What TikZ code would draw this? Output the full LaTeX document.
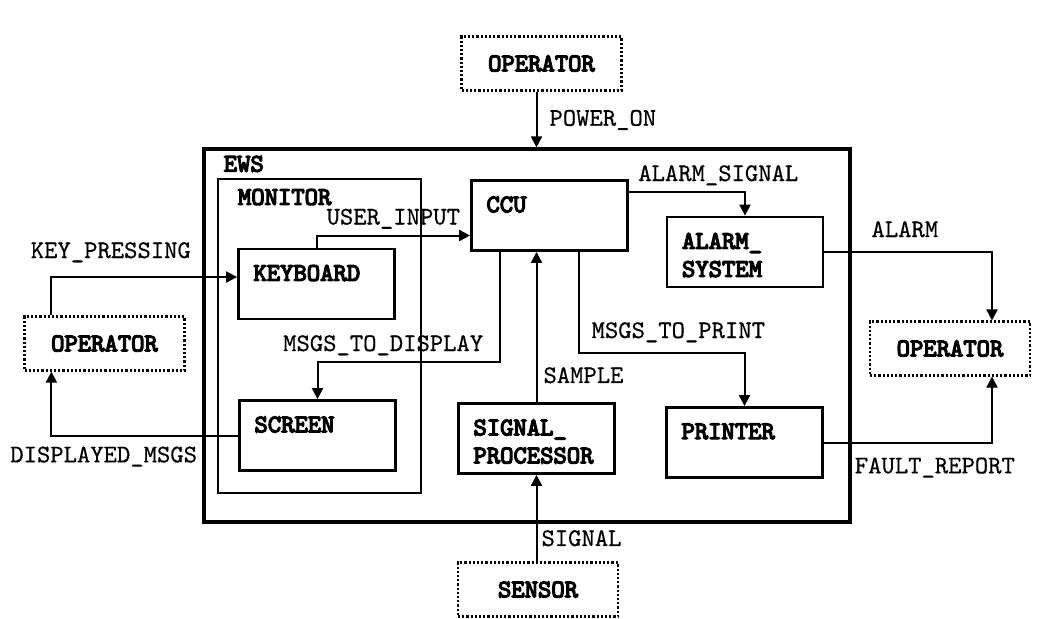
\documentclass[tikz,border=0pt]{standalone}
\usepackage{fontspec}
\setmonofont{lmmono10-regular}[Extension=.otf, BoldFont=lmmono10-regular,
  UprightFeatures={FakeBold=0.5}, BoldFeatures={FakeBold=5}]
\usetikzlibrary{arrows.meta,positioning}

\begin{document}
\begin{tikzpicture}[x=0.5pt, y=-0.5pt,
  font=\ttfamily\fontsize{12.7}{14}\selectfont,
  tag/.style={anchor=north west, inner sep=0pt, xshift=8pt, yshift=-8.5pt, align=left,
    font=\ttfamily\bfseries\fontsize{12.7}{14}\selectfont},
  block/.style={draw, line width=1.4pt, minimum width=78pt, minimum height=35pt,
    inner sep=0pt, label={[tag]north west:#1}},
  ext/.style={draw, densely dotted, line width=1.1pt, minimum width=80pt,
    minimum height=27pt, font=\ttfamily\bfseries\fontsize{12.7}{14}\selectfont},
  flow/.style={line width=1pt, -{Triangle[length=5.5pt,width=5.5pt]}},
  lab/.style={inner sep=0pt, text depth=0pt}]

  \useasboundingbox (0,0) rectangle (1053,618);

  % system and subsystem
  \node[draw, line width=1.6pt, minimum width=323pt, minimum height=186.5pt,
    label={[tag, xshift=2.5pt, yshift=4.5pt]north west:EWS}] (ews) at (527,335.5) {};
  \node[draw, line width=1.4pt, minimum width=101.5pt, minimum height=157pt,
    label={[tag, xshift=2.5pt, yshift=3pt]north west:MONITOR}] (mon) at (319.5,336) {};

  % components
  \node[block=KEYBOARD] (kbd) at (316.5,284) {};
  \node[block=SCREEN] (scr) at (317.5,435.5) {};
  \node[block=CCU] (ccu) at (549.5,215.5) {};
  \node[block={ALARM\_\\SYSTEM}] (alm) at (745,252) {};
  \node[block=PRINTER] (prn) at (744.5,442.5) {};
  \node[block={SIGNAL\_\\PROCESSOR}] (sp) at (536.5,438.5) {};

  % outside world
  \node[ext] (opT) at (541.5,63.5) {OPERATOR};
  \node[ext] (opL) at (104.5,343.5) {OPERATOR};
  \node[ext] (opR) at (950,348.5) {OPERATOR};
  \node[ext] (sen) at (538,589.5) {SENSOR};

  \coordinate (disp) at (500,362);
  \coordinate (prt) at (579,353);

  % data flows
  \draw[flow] (sp |- opT.south) -- node[lab, right=6pt, pos=0.47] (lPow) {POWER\_ON} (sp |- ews.north);
  \draw[flow] (sp.north) -- node[lab, right=3pt, pos=0.18] (lSmp) {SAMPLE} (sp.north |- ccu.south);
  \draw[flow] (sp |- sen.north) -- node[lab, right=2pt, pos=0.27] (lSig) {SIGNAL} (sp.south);
  \draw[flow] ([xshift=14pt]opL.north west) |- node[lab, above=9pt, pos=0.66] (lKey) {KEY\_PRESSING} ([yshift=3.5pt]kbd.west);
  \draw[flow] (scr.west) -| node[lab, below=5pt, pos=0.36] (lDsp) {DISPLAYED\_MSGS} ([xshift=14pt]opL.south west);
  \draw[flow] (kbd.north) |- node[lab, above=5pt, pos=0.75] (lUsr) {USER\_INPUT} ([yshift=-10pt]ccu.west);
  \draw[flow] (ccu.south -| disp) -- (disp) -| node[lab, above=5pt, pos=0.32] (lMtd) {MSGS\_TO\_DISPLAY} (scr.north);
  \draw[flow] (ccu.south -| prt) -- (prt) -| node[lab, above=7pt, pos=0.3] (lMtp) {MSGS\_TO\_PRINT} (prn.north);
  \draw[flow] ([yshift=11.75pt]ccu.east) -| node[lab, above=5pt, pos=0.385] (lAsg) {ALARM\_SIGNAL} (alm.north);
  \draw[flow] (alm.east) -| node[lab, above=7pt, pos=0.24] (lAlm) {ALARM} ([xshift=21pt]opR.north);
  \draw[flow] (prn.east) -| node[lab, below=7pt, pos=0.33] (lFlt) {FAULT\_REPORT} ([xshift=21pt]opR.south);
\end{tikzpicture}
\end{document}
